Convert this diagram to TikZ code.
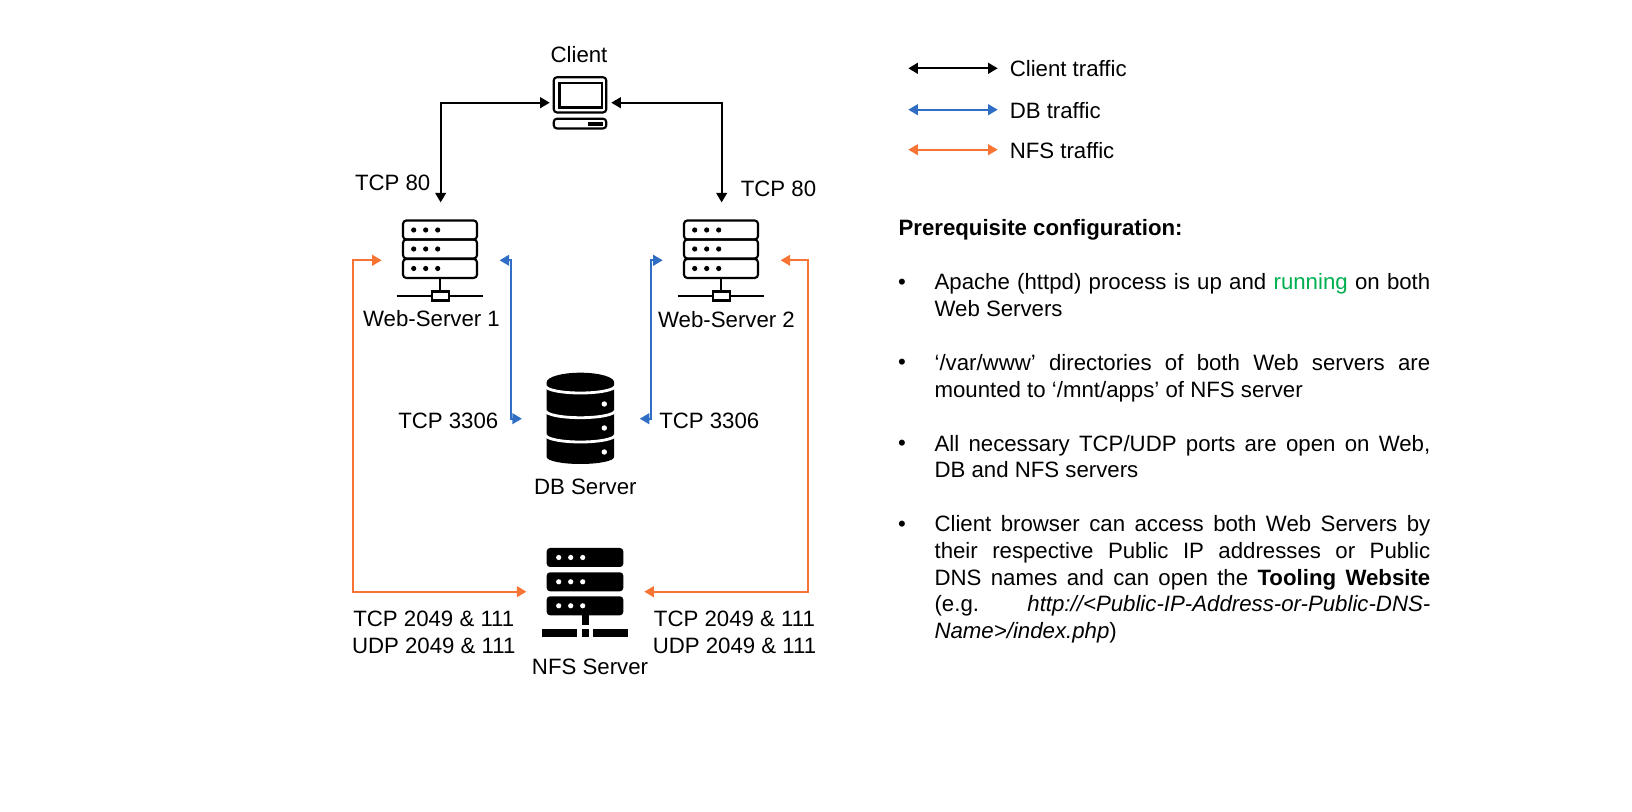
\documentclass[tikz,border=0pt]{standalone}
\usepackage{fontspec}
\setmainfont{Liberation Sans}
\usetikzlibrary{arrows.meta}
\definecolor{dbblue}{HTML}{2F6EC4}
\definecolor{nfsorange}{HTML}{F87434}
\definecolor{rungreen}{HTML}{00B050}
\begin{document}
\begin{tikzpicture}[x=0.75pt,y=-0.75pt,
    every node/.style={font=\fontsize{16.67}{20}\selectfont},
    hub/.style={inner sep=0pt,minimum width=88pt,minimum height=86.4pt},
    traffic/.style={line width=1.6pt,{Triangle[length=7.2pt,width=8pt]}-{Triangle[length=7.2pt,width=8pt]}},
    iconline/.style={line width=1.6pt},
    bullettext/.style={anchor=north west,inner sep=0pt,text width=371.8pt,align=justify}]
    \path[use as bounding box] (0,0) rectangle (1632,812);

    % anchors for the connectors
    \node[hub,minimum width=45.75pt] (client) at (580.5,102.7) {};
    \node[hub] (web1) at (440.65,260.3) {};
    \node[hub] (web2) at (721.65,260.3) {};
    \node[hub] (db) at (580.85,418.7) {};
    \node[hub] (nfs) at (585.35,591.7) {};

    % client icon
    \draw[iconline,rounded corners=2.5pt] (553.7,77.2) rectangle (606.3,112.5);
    \draw[line width=1.9pt] (559.5,83) rectangle (601.8,107.5);
    \draw[iconline,rounded corners=2.5pt] (553.7,118.7) rectangle (606.3,128.5);
    \fill (588,121.7) rectangle (603,125.7);
    \node (clientlabel) at (579,55) {Client};

    % web server icons
    \foreach \sx/\num/\lx/\ly in {0/1/431.5/318.3, 281/2/726.5/319.3} {
        \foreach \ry in {220.5,239.5,259} {
            \draw[iconline,rounded corners=2.5pt] (403+\sx,\ry) rectangle (477+\sx,\ry+19);
            \foreach \dx in {413.7,425.7,437.7}
                \fill (\dx+\sx,\ry+9.5) circle[radius=2.6];
        }
        \draw[iconline] (440+\sx,278) -- (440+\sx,291);
        \draw[iconline] (396.7+\sx,296) -- (483.3+\sx,296);
        \draw[iconline,fill=white] (431.7+\sx,291.5) rectangle (449+\sx,300.5);
        \node (weblabel\num) at (\lx,\ly) {Web-Server \num};
    }

    % db icon
    \fill (546.7,382.2) -- (546.7,457) arc[start angle=180,end angle=0,x radius=33.7,y radius=7]
        -- (614.1,382.2) arc[start angle=0,end angle=-180,x radius=33.7,y radius=9.5] -- cycle;
    \foreach \wy in {386,410.7,435}
        \draw[white,line width=2.1pt] (545.7,\wy) arc[start angle=180,end angle=0,x radius=34.7,y radius=7];
    \foreach \dy in {404,428,452}
        \fill[white] (604.3,\dy) circle[radius=2.7];
    \node (dblabel) at (585.3,486.7) {DB Server};

    % nfs icon
    \foreach \ry in {548,572.3,596.3} {
        \fill[rounded corners=2.5pt] (546.7,\ry) rectangle (623.3,\ry+19);
        \foreach \dx in {558.7,570.7,582.7}
            \fill[white] (\dx,\ry+9.5) circle[radius=2.6];
    }
    \fill (581.7,615) rectangle (588.7,625);
    \foreach \ax/\bx in {542/576.7, 581.7/588.7, 593.3/628.3}
        \fill (\ax,629.3) rectangle (\bx,636.7);
    \node (nfslabel) at (590,666.5) {NFS Server};

    % client traffic
    \draw[traffic] (client.west) -| (web1.north);
    \draw[traffic] (client.east) -| (web2.north);
    \node (tcpa) at (392.7,182.7) {TCP 80};
    \node (tcpb) at (778.5,188.7) {TCP 80};

    % db traffic
    \draw[traffic,dbblue] (web1.east) -- ++(11.3,0) |- (db.west);
    \draw[traffic,dbblue] (web2.west) -- ++(-11.6,0) |- (db.east);
    \node (sqla) at (448.3,421) {TCP 3306};
    \node (sqlb) at (709.3,421) {TCP 3306};

    % nfs traffic
    \draw[traffic,nfsorange] (web1.west) -- ++(-28.3,0) |- (nfs.west);
    \draw[traffic,nfsorange] (web2.east) -- ++(27,0) |- (nfs.east);
    \node[align=center] (porta) at (433.8,632.3) {TCP 2049 \& 111\\UDP 2049 \& 111};
    \node[align=center] (portb) at (734.5,632.3) {TCP 2049 \& 111\\UDP 2049 \& 111};

    % legend
    \foreach \name/\ypos/\col/\txt in {a/68.3/black/Client, b/109.7/dbblue/DB, c/149.7/nfsorange/NFS} {
        \coordinate (leg\name l) at (908.3,\ypos);
        \coordinate (leg\name r) at (997.7,\ypos);
        \draw[traffic,\col] (leg\name l) -- (leg\name r);
        \node[anchor=west,inner sep=0pt] (legtext\name) at (1009.5,\ypos+0.4) {\txt\ traffic};
    }

    % prerequisite list
    \node[anchor=west,inner sep=0pt,font=\fontsize{16.67}{20}\selectfont\bfseries] (prereq) at (898.3,229.7) {Prerequisite configuration:};
    \foreach \bn/\by in {a/284.5, b/364.8, c/445.3, d/526}
        \node (bul\bn) at (902,\by) {•};
    \node[bullettext] (itema) at (934.3,273) {Apache (httpd) process is up and \textcolor{rungreen}{running} on both\linebreak Web Servers};
    \node[bullettext] (itemb) at (934.3,354.6) {‘/var/www’ directories of both Web servers are\linebreak mounted to ‘/mnt/apps’ of NFS server};
    \node[bullettext] (itemc) at (934.3,434.8) {All necessary TCP/UDP ports are open on Web,\linebreak DB and NFS servers};
    \node[bullettext] (itemd) at (934.3,515.5) {Client browser can access both Web Servers by\linebreak their respective Public IP addresses or Public\linebreak DNS names and can open the \textbf{Tooling Website}\linebreak (e.g. \textit{http://<Public-IP-Address-or-Public-DNS-}\linebreak \textit{Name>/index.php})};
\end{tikzpicture}
\end{document}
